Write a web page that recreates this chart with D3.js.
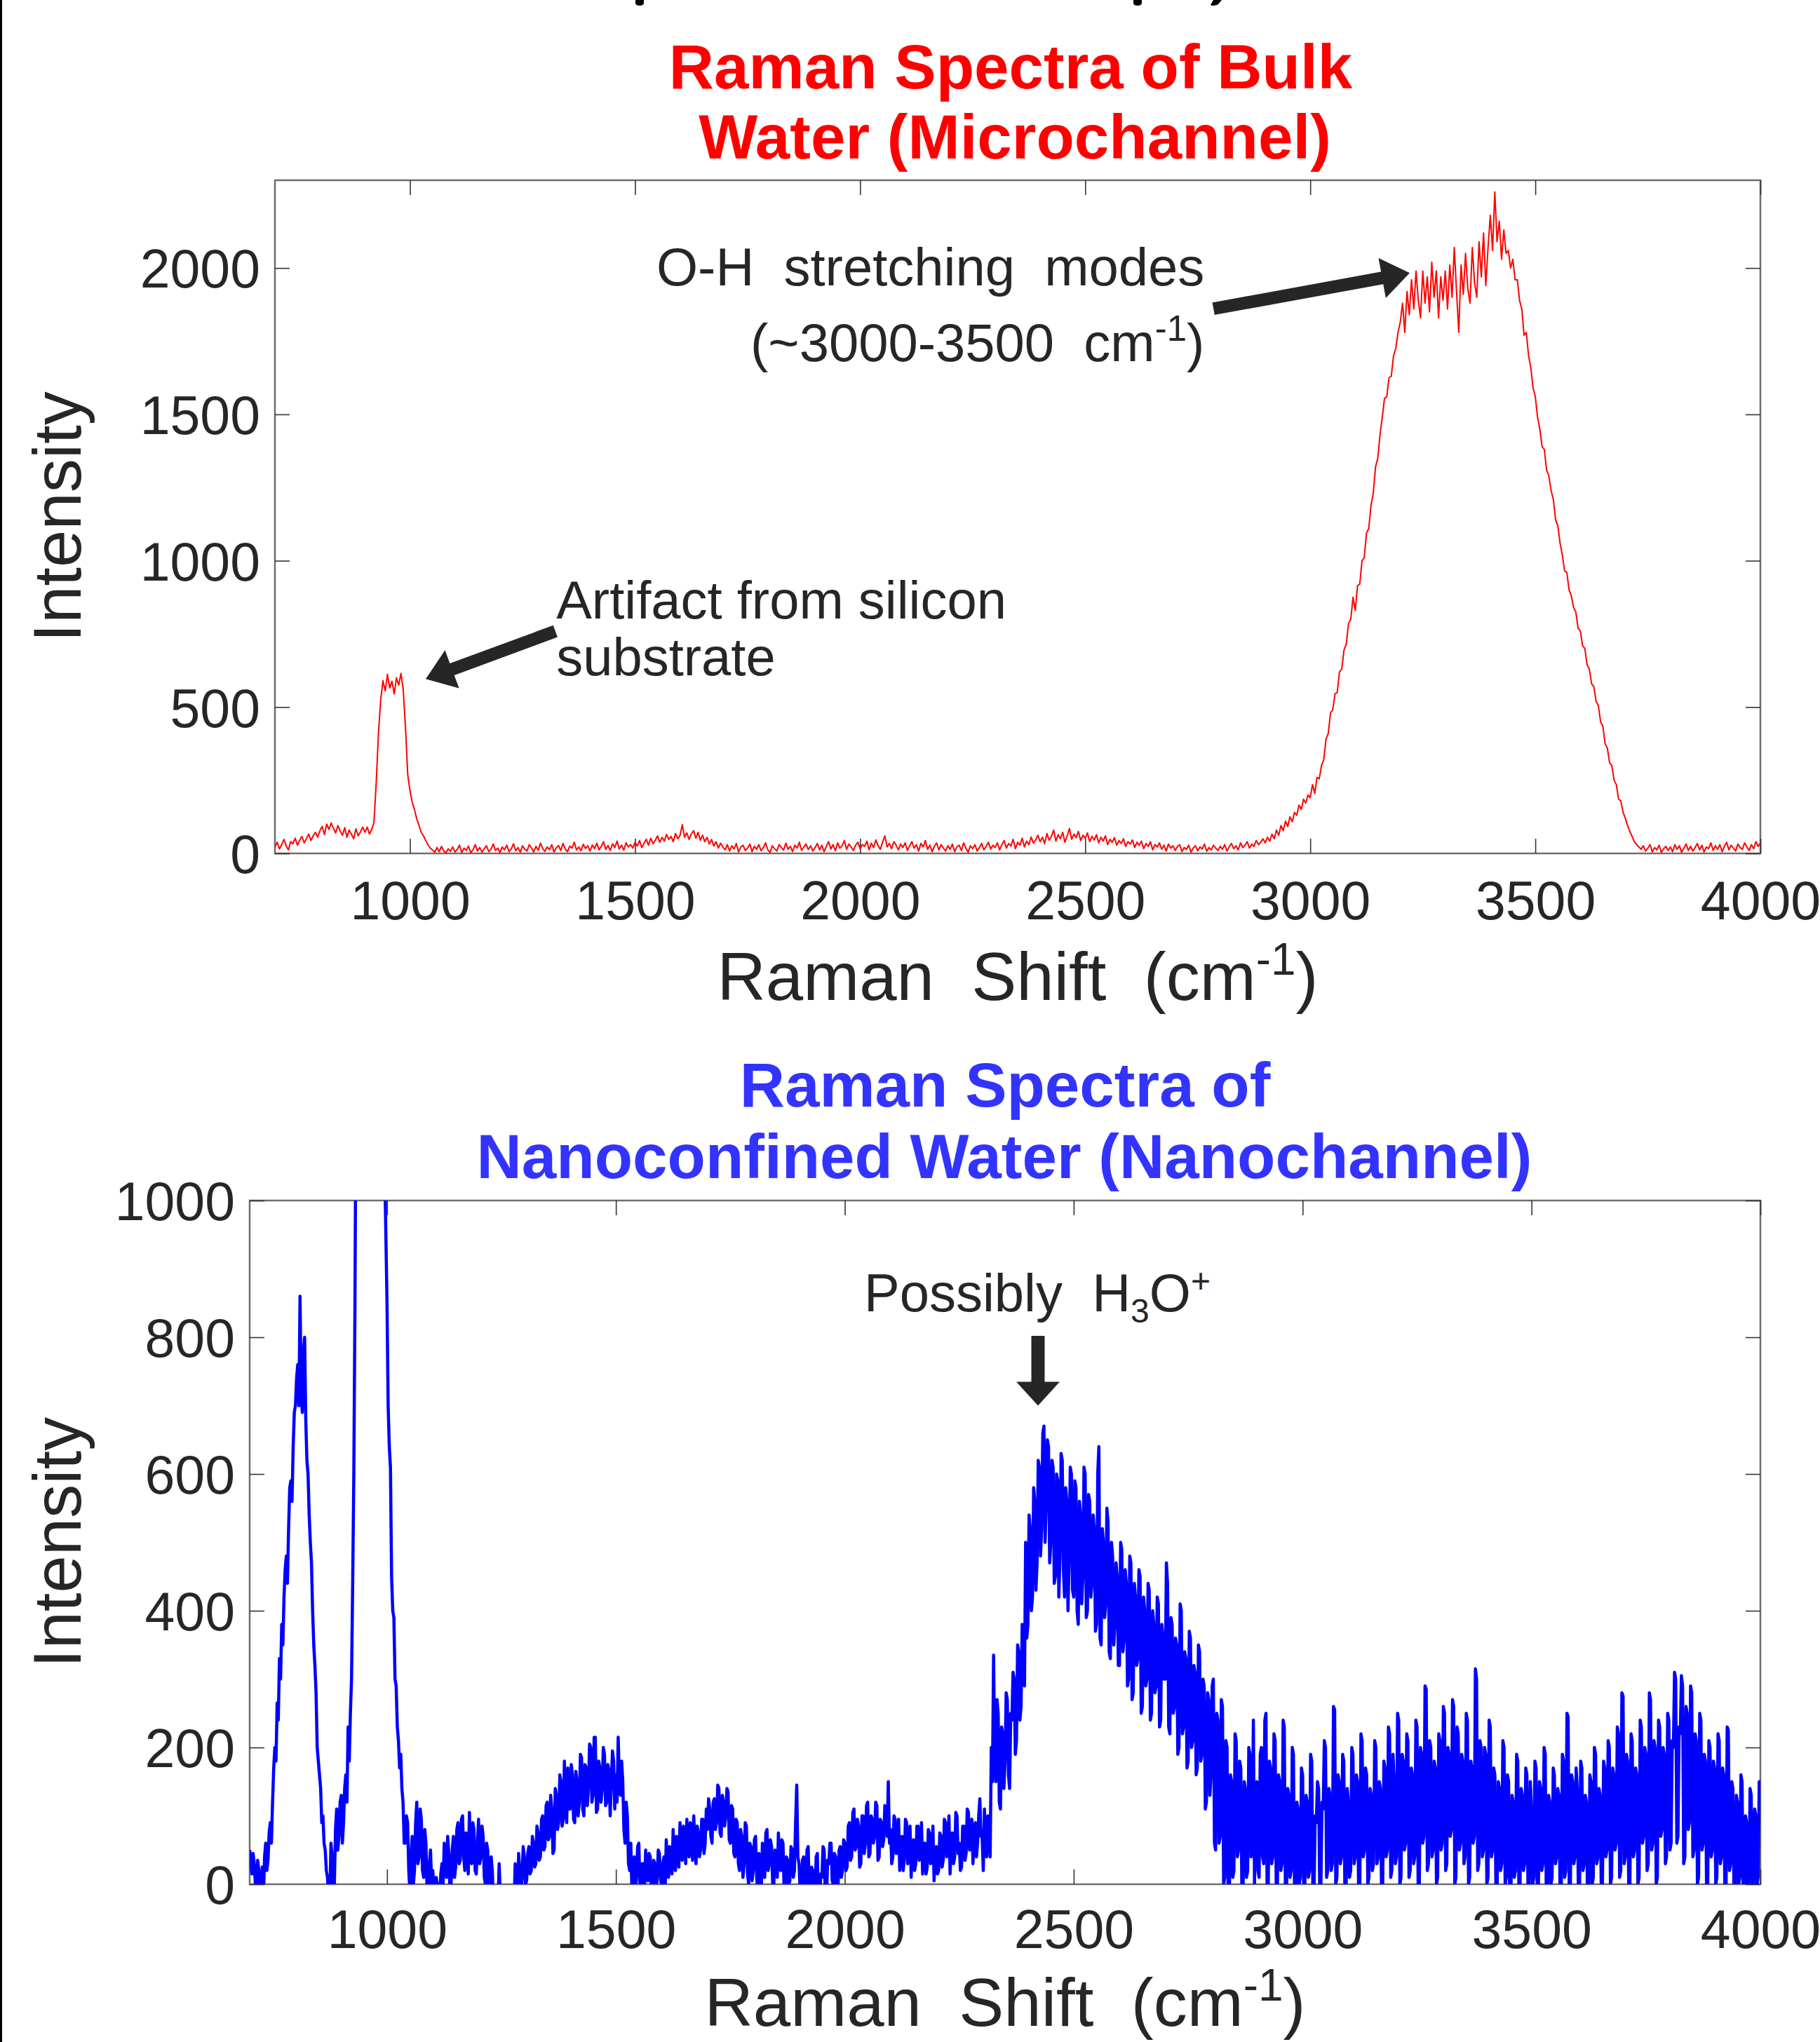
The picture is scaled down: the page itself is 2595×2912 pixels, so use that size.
<!DOCTYPE html>
<html><head><meta charset="utf-8">
<script src="https://cdn.jsdelivr.net/npm/d3@7"></script>
<style>
html,body{margin:0;padding:0;background:#fff;}
svg{display:block;font-family:"Liberation Sans",Arial,sans-serif;}
text{white-space:pre;}
</style></head><body>
<svg id="chart" width="2595" height="2912"></svg>
<script>
// Sampling grids of the two spectra (Raman shift, cm^-1)
const xStart = 700;
const bulkStep = 5;
const nanoStep = 2.5;
const xDomain = [700, 4000];
const xTicks = [1000, 1500, 2000, 2500, 3000, 3500, 4000];
const bulkYTicks = [0, 500, 1000, 1500, 2000];
const nanoYTicks = [0, 200, 400, 600, 800, 1000];

// Bulk water (microchannel) intensity, every 5 cm^-1 from 700 to 4000
const bulkIntensity = [
22,38,15,30,48,26,12,40,33,52,28,45,58,36,50,66,44,60,72,55,
78,92,64,100,82,104,86,70,95,76,62,88,55,80,66,50,84,60,74,90,
72,90,66,82,105,240,410,525,590,555,612,565,588,545,600,575,615,560,430,270,
215,175,150,118,96,72,60,44,30,18,12,4,20,6,24,9,2,16,7,22,
5,14,28,3,18,10,25,2,12,30,8,20,4,16,26,6,14,32,10,18,
3,22,12,28,6,15,33,9,20,4,26,14,8,30,18,5,24,11,35,16,
7,22,13,30,5,19,27,10,34,15,6,25,18,38,12,22,9,31,17,26,
8,29,16,35,12,24,40,14,27,10,33,20,42,15,28,11,36,22,30,18,
38,25,44,20,35,48,28,52,33,45,60,38,55,42,65,48,58,40,68,50,
62,98,55,70,48,66,78,52,72,45,62,40,55,32,48,25,40,18,35,22,
12,30,8,26,15,34,5,22,28,10,18,32,6,24,14,30,9,20,36,12,
4,26,16,8,30,20,11,35,14,24,6,28,18,38,10,22,32,13,26,8,
20,34,12,28,6,24,40,15,30,9,36,18,26,44,14,32,22,10,28,38,
16,30,24,42,12,35,20,46,26,14,38,60,22,34,16,40,28,12,32,20,
36,10,26,40,18,30,8,34,22,44,14,28,6,24,36,12,30,18,8,26,
14,32,6,22,28,10,36,18,4,26,16,30,8,20,34,12,24,38,15,28,
20,36,12,30,44,18,34,25,48,16,38,28,52,22,42,30,56,35,46,62,
40,55,34,68,45,58,80,42,64,50,72,38,60,85,48,66,54,75,44,62,
52,70,40,58,46,64,36,55,42,60,30,48,38,54,28,44,34,50,24,40,
32,46,20,38,28,42,16,34,24,40,12,30,22,36,14,28,8,32,18,26,
10,24,30,6,20,14,28,4,18,26,9,22,15,32,7,20,12,28,18,10,
24,14,30,8,22,34,16,26,12,36,20,28,40,18,32,24,44,30,38,50,
36,55,42,66,50,80,62,95,78,110,92,125,108,140,130,165,150,185,172,200,
190,235,205,260,255,300,320,390,410,480,490,545,550,620,630,695,715,785,800,875,
830,915,920,1000,1010,1095,1110,1190,1230,1320,1350,1430,1490,1555,1560,1625,1630,1700,1725,1780,
1815,1880,1780,1920,1840,1960,1860,1990,1890,1830,1990,1880,1970,1850,2020,1900,1990,1830,1970,1890,
1990,1860,2010,1900,2070,1920,1780,2010,1910,2050,1930,1880,2070,1950,1900,2090,1970,2120,1940,2070,
2180,2060,2260,2090,2160,2030,2130,2050,2060,2000,2030,1960,1960,1890,1860,1770,1780,1700,1660,1590,
1560,1490,1450,1390,1380,1310,1290,1240,1210,1140,1120,1060,1020,965,960,900,880,840,825,770,
760,710,700,645,630,580,570,520,505,450,435,375,360,310,300,250,235,185,180,140,
120,95,75,58,40,30,22,14,26,8,18,30,5,20,12,28,3,16,24,10,
22,6,30,14,26,4,18,32,10,24,8,20,34,12,28,5,22,16,36,10,
26,14,30,6,24,38,12,28,18,8,32,20,14,36,22,10,30,16,40,24,
35];

// Nanoconfined water (nanochannel) intensity, every 2.5 cm^-1 from 700 to 4000
const nanoIntensity = [
50,30,15,45,30,0,-10,35,20,-15,5,25,-20,40,60,20,35,75,90,60,120,170,200,180,265,240,330,300,380,350,420,460,480,440,520,580,590,560,640,690,
700,740,760,700,860,720,690,780,800,680,620,600,540,500,470,400,350,320,280,200,180,160,140,90,100,60,50,20,10,-20,-30,60,40,-20,0,80,110,50,70,120,
130,60,90,140,160,120,230,180,250,300,440,600,850,1200,1600,2000,2500,2900,3200,3400,3600,3700,3800,3800,3700,3600,3400,3200,3000,2800,2600,2300,2100,1900,1700,1500,1300,1150,1050,950,
850,700,640,610,450,400,390,300,290,230,210,170,190,140,120,60,60,100,90,20,-10,40,70,0,20,90,120,30,40,110,95,20,10,80,60,-10,-20,30,50,0,
20,-10,-20,10,0,-30,-30,15,30,0,60,20,10,70,45,-10,0,50,70,10,25,80,90,30,35,95,100,40,20,75,60,15,105,45,30,90,80,20,15,60,
95,30,40,85,70,10,0,60,50,-10,-20,40,20,-30,-30,-40,-40,-30,30,-20,-30,-40,-40,-30,-30,-40,-40,-30,-30,-40,-40,-30,30,-10,-20,45,20,-20,10,55,
40,0,5,45,55,15,20,70,60,25,30,85,75,35,40,95,100,50,55,115,120,65,70,130,110,45,50,140,130,80,90,160,150,85,95,180,125,90,170,110,
110,175,160,95,90,165,150,100,120,190,185,110,100,175,170,115,140,205,200,120,130,215,215,105,110,180,170,120,140,200,190,115,120,175,165,100,150,195,180,110,
160,120,215,150,130,180,150,80,60,120,100,30,20,60,-10,20,40,-10,10,55,60,0,-20,30,30,-10,50,10,5,45,40,-10,-10,35,30,-20,10,50,45,5,
0,30,40,-10,65,25,10,55,50,15,80,40,20,70,60,25,90,45,35,85,70,30,95,55,40,90,80,35,100,60,30,85,75,40,50,95,95,45,60,110,
80,125,110,70,60,120,125,80,90,145,140,75,70,130,120,85,100,140,135,65,60,115,110,45,40,95,90,30,20,80,70,10,30,90,85,15,0,60,55,5,
20,65,70,10,-10,45,40,-10,60,15,10,75,80,20,30,65,55,0,0,50,45,10,75,25,20,65,60,-10,-20,40,35,0,5,55,50,10,20,90,145,40,
30,-10,-20,35,40,-10,0,50,55,-20,-30,25,20,-20,-10,40,45,-30,-30,15,10,55,50,-20,-20,35,30,60,60,5,0,45,40,-20,-10,50,55,10,20,65,
60,20,25,85,90,35,40,105,110,50,55,95,85,25,30,100,100,45,60,115,120,40,45,100,95,60,70,120,115,35,40,95,90,55,65,115,110,70,150,60,
80,30,40,100,95,45,55,95,20,60,70,20,35,95,90,30,50,85,10,55,65,20,30,85,85,35,45,90,15,60,60,15,25,80,75,30,40,85,5,50,
55,15,20,75,70,25,35,95,90,40,50,100,15,60,75,30,40,105,100,45,60,20,25,85,85,35,45,110,105,50,55,95,30,70,90,40,60,100,125,70,
70,20,110,60,40,100,90,40,200,150,335,180,150,270,250,120,110,230,220,140,180,280,270,160,140,250,240,310,300,190,210,350,340,240,260,380,370,290,500,360,
380,540,520,400,420,580,560,430,470,620,610,480,520,660,670,500,560,650,640,470,500,620,610,440,450,600,590,420,480,630,620,460,420,580,560,400,470,610,600,430,
420,590,580,400,380,560,540,410,450,610,600,390,400,570,560,420,440,540,520,370,380,600,640,360,350,520,500,390,410,550,530,340,330,500,480,350,380,470,450,320,
320,500,490,340,360,460,440,290,300,480,470,270,280,440,420,320,330,460,450,250,260,420,400,290,300,440,430,240,250,400,380,280,290,420,410,230,240,380,360,300,
300,470,440,230,220,390,380,250,260,360,350,190,200,410,400,220,230,340,330,170,180,370,360,200,210,320,310,160,170,350,340,180,190,300,290,110,120,280,270,130,
160,290,300,60,50,250,240,60,70,270,260,0,10,210,200,-30,-30,160,150,10,20,220,210,40,50,180,170,-20,-10,150,140,10,20,200,190,40,50,240,0,130,
150,20,10,190,200,40,30,240,250,-10,0,180,170,30,40,220,210,-10,0,160,150,20,30,240,230,-20,-10,140,130,10,20,200,190,-20,-20,120,110,0,10,170,
160,-10,0,130,120,10,20,190,180,-20,-10,100,90,150,140,-10,0,120,110,210,200,10,20,140,130,20,30,260,255,0,10,160,150,30,40,190,180,-20,-10,140,
120,10,20,200,190,30,40,160,150,-20,-10,220,210,40,50,170,160,0,10,140,130,20,30,210,200,30,40,150,140,-10,0,180,170,40,50,230,220,10,20,190,
150,30,40,250,240,0,10,190,180,50,60,220,210,10,20,170,160,30,40,240,230,-10,0,200,190,60,70,290,285,20,30,210,200,40,50,180,170,0,10,220,
210,50,60,260,250,20,30,200,190,70,80,270,260,0,10,230,220,50,60,190,180,30,40,250,240,0,10,180,170,60,70,315,300,20,30,210,200,40,50,200,
190,0,10,240,230,40,50,170,160,-20,-10,150,140,20,30,210,200,0,10,160,150,-30,-20,130,120,10,20,190,180,-10,0,140,130,20,30,170,160,-20,-10,150,
110,0,10,180,170,-20,-10,150,140,20,30,200,190,-30,-20,130,120,0,10,170,160,30,40,140,130,-20,-10,190,180,10,20,250,245,-10,0,160,150,30,40,170,
140,-20,-10,180,170,20,30,130,120,-30,-20,160,150,0,10,200,190,30,40,140,130,-10,0,180,170,40,50,210,200,0,10,170,160,50,60,230,220,10,20,280,
275,30,40,190,180,-10,0,220,210,40,50,170,160,0,10,240,230,60,70,200,190,20,30,280,270,50,60,210,200,0,10,240,230,70,80,200,190,30,40,250,
240,50,60,210,200,310,300,60,70,230,220,305,290,30,40,260,250,80,90,290,280,40,50,220,210,0,10,250,240,50,60,190,180,-10,0,210,200,40,50,180,
170,0,10,220,210,30,40,170,160,-20,-10,230,225,20,30,150,140,-30,-20,130,120,0,10,160,150,-30,-20,100,90,-10,0,140,130,-20,-10,110,100,0,10,150,
140];

const bulkTitle = ["Raman Spectra of Bulk", "Water (Microchannel)"];
const nanoTitle = ["Raman Spectra of", "Nanoconfined Water (Nanochannel)"];

const FONT = "Liberation Sans, Arial, sans-serif";
const INK = "#262626";
const svg = d3.select("#chart");
const defs = svg.append("defs");

// left page border and the cut-off ink of a line above the figure
svg.append("line").attr("x1",1.5).attr("x2",1.5).attr("y1",0).attr("y2",2912)
  .attr("stroke","#000").attr("stroke-width",3);
svg.append("path").attr("fill","#000")
  .attr("d","M906,0L918,0L918,4Q918,8 912,8Q906,8 906,4Z M1616,0L1628,0L1628,4Q1628,8 1622,8Q1616,8 1616,4Z M1730,0L1742,0L1737,6Q1734,8 1728,8L1726,7Z");

function arrowPath(x1,y1,x2,y2,shaft,headLen,headW){
  const dx=x2-x1, dy=y2-y1, L=Math.hypot(dx,dy), ux=dx/L, uy=dy/L, px=-uy, py=ux;
  const bx=x2-ux*headLen, by=y2-uy*headLen, s=shaft/2, h=headW/2;
  const p=[[x1+px*s,y1+py*s],[bx+px*s,by+py*s],[bx+px*h,by+py*h],[x2,y2],
           [bx-px*h,by-py*h],[bx-px*s,by-py*s],[x1-px*s,y1-py*s]];
  return "M"+p.map(q=>q[0].toFixed(1)+","+q[1].toFixed(1)).join("L")+"Z";
}

function drawPanel(p){
  const x = d3.scaleLinear().domain(xDomain).range([p.left,p.right]);
  const y = d3.scaleLinear().domain([0,p.yMax]).range([p.bottom,p.top]);
  const g = svg.append("g");

  p.title.forEach((t,i)=>{
    g.append("text").attr("x",p.titleX[i]).attr("y",p.titleY[i])
      .attr("text-anchor","middle").attr("font-size",89).attr("font-weight","bold")
      .attr("fill",p.titleColor).text(t);
  });

  g.append("rect").attr("x",p.left).attr("y",p.top)
    .attr("width",p.right-p.left).attr("height",p.bottom-p.top)
    .attr("fill","none").attr("stroke","#6e6e6e").attr("stroke-width",2.5);

  const styleAxis = sel => {
    sel.attr("font-family",FONT).attr("font-size",77);
    sel.select(".domain").remove();
    sel.selectAll(".tick line").attr("stroke","#333").attr("stroke-width",1.6);
    sel.selectAll(".tick text").attr("fill",INK);
  };
  const xb = g.append("g").attr("transform",`translate(0,${p.bottom})`)
    .call(d3.axisBottom(x).tickValues(xTicks).tickSize(-21).tickSizeOuter(0).tickFormat(d3.format("d")));
  styleAxis(xb);
  xb.selectAll(".tick text").attr("y",p.xLabelOffset).attr("dy",null);
  const xt = g.append("g").attr("transform",`translate(0,${p.top})`)
    .call(d3.axisTop(x).tickValues(xTicks).tickSize(-21).tickSizeOuter(0).tickFormat(""));
  styleAxis(xt);
  const yl = g.append("g").attr("transform",`translate(${p.left},0)`)
    .call(d3.axisLeft(y).tickValues(p.yTicks).tickSize(-21).tickSizeOuter(0).tickFormat(d3.format("d")));
  styleAxis(yl);
  yl.selectAll(".tick text").attr("x",-21).attr("dy","0.36em");
  const yr = g.append("g").attr("transform",`translate(${p.right},0)`)
    .call(d3.axisRight(y).tickValues(p.yTicks).tickSize(-21).tickSizeOuter(0).tickFormat(""));
  styleAxis(yr);

  defs.append("clipPath").attr("id","clip-"+p.id).append("rect")
    .attr("x",p.left).attr("y",p.top).attr("width",p.right-p.left).attr("height",p.bottom-p.top);
  const pts = p.values.map((v,i)=>[xStart+i*p.step, v]);
  g.append("path").datum(pts).attr("clip-path",`url(#clip-${p.id})`)
    .attr("d", d3.line().x(d=>x(d[0])).y(d=>y(d[1])))
    .attr("fill","none").attr("stroke",p.color).attr("stroke-width",p.lw)
    .attr("stroke-linejoin","round");

  const xt2 = g.append("text").attr("x",(p.left+p.right)/2).attr("y",p.xTitleY)
    .attr("text-anchor","middle").attr("font-size",96).attr("fill",INK);
  xt2.append("tspan").text("Raman  Shift  (cm");
  xt2.append("tspan").attr("font-size",64).attr("dy",-36).text("-1");
  xt2.append("tspan").attr("dy",36).text(")");
  g.append("text").attr("transform",`translate(115,${(p.top+p.bottom)/2}) rotate(-90)`)
    .attr("text-anchor","middle").attr("font-size",96).attr("fill",INK).text("Intensity");

  p.annotate(g,x,y);
}

drawPanel({
  id:"bulk", values:bulkIntensity, step:bulkStep, color:"#ff0000", lw:2,
  left:392, right:2510, top:257, bottom:1217, yMax:2300, yTicks:bulkYTicks,
  title:bulkTitle, titleColor:"#ff0000", titleX:[1441,1447], titleY:[126,226],
  xLabelOffset:94, xTitleY:1426,
  annotate:(g,x,y)=>{
    g.append("text").attr("x",x(2765)).attr("y",y(1940)).attr("text-anchor","end")
      .attr("font-size",76).attr("fill",INK).text("O-H  stretching  modes");
    const t2 = g.append("text").attr("x",x(2765)).attr("y",y(1681)).attr("text-anchor","end")
      .attr("font-size",76).attr("fill",INK);
    t2.append("tspan").text("(~3000-3500  cm");
    t2.append("tspan").attr("font-size",51).attr("dy",-29).text("-1");
    t2.append("tspan").attr("dy",29).text(")");
    g.append("path").attr("d",arrowPath(x(2785),y(1861),x(3221),y(1983),18,40,58)).attr("fill",INK);
    g.append("text").attr("x",x(1325)).attr("y",y(802)).attr("font-size",76).attr("fill",INK).text("Artifact from silicon");
    g.append("text").attr("x",x(1325)).attr("y",y(608)).attr("font-size",76).attr("fill",INK).text("substrate");
    g.append("path").attr("d",arrowPath(x(1323),y(759),x(1035),y(596),18,40,58)).attr("fill",INK);
  }
});

drawPanel({
  id:"nano", values:nanoIntensity, step:nanoStep, color:"#0000ff", lw:4.5,
  left:356, right:2510, top:1712, bottom:2687, yMax:1000, yTicks:nanoYTicks,
  title:nanoTitle, titleColor:"#3333ff", titleX:[1433,1432], titleY:[1578,1680],
  xLabelOffset:91, xTitleY:2889,
  annotate:(g,x,y)=>{
    const t = g.append("text").attr("x",x(2042)).attr("y",y(838)).attr("font-size",76).attr("fill",INK);
    t.append("tspan").text("Possibly  H");
    t.append("tspan").attr("font-size",48).attr("dy",16).text("3");
    t.append("tspan").attr("dy",-16).text("O");
    t.append("tspan").attr("font-size",48).attr("dy",-27).text("+");
    g.append("path").attr("d",arrowPath(x(2422),y(802),x(2422),y(700),19,34,62)).attr("fill",INK);
  }
});
</script>
</body></html>
